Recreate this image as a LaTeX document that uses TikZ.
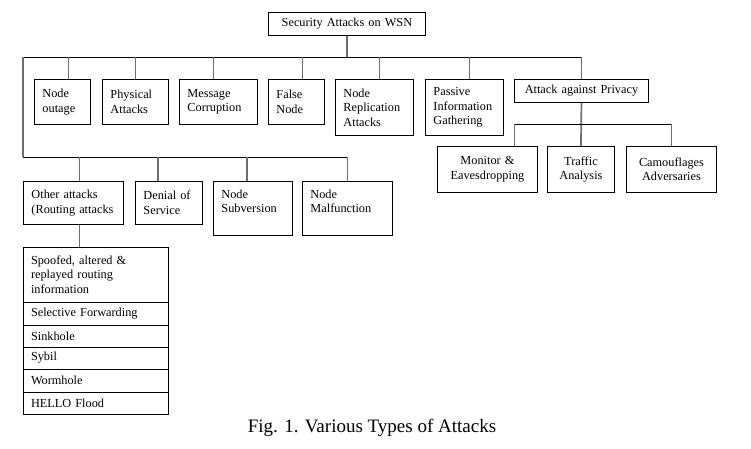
\documentclass[tikz,border=0pt]{standalone}
\usepackage{fontspec}
\setmainfont{Liberation Serif}
\usetikzlibrary{positioning}
\definecolor{WsnLine}{RGB}{0,0,0}
\definecolor{WsnDrop}{RGB}{110,110,110}

\begin{document}
\begin{tikzpicture}[x=1pt,y=-1pt]
        \tikzset{box/.style={draw=WsnLine,line width=0.9pt,anchor=north west,align=left,inner xsep=8pt,inner ysep=0pt,font=\fontsize{12.3}{14.5}\selectfont},
          cbox/.style={box,align=center},
          item/.style={box,outer sep=0pt,text width=129pt,minimum width=145pt},
          bus/.style={WsnLine,line width=0.9pt},
          drop/.style={WsnDrop,line width=1.7pt}}
        \useasboundingbox (0,0) rectangle (751,448);
        % root
        \node[cbox,text width=141pt,minimum height=23pt] (root) at (268,12) {Security Attacks on WSN};
        % first row
        \node[box,text width=40pt,minimum height=45pt] (outage) at (34,79) {Node\\outage};
        \node[box,text width=50pt,minimum height=45pt] (physical) at (102,79) {Physical\\Attacks};
        \node[box,text width=62pt,minimum height=45pt] (message) at (179,79) {Message\\Corruption};
        \node[box,text width=40pt,minimum height=45pt] (false) at (268,79) {False\\Node};
        \node[box,text width=62pt,minimum height=56pt] (replic) at (335,79) {Node\\Replication\\Attacks};
        \node[box,text width=62pt,minimum height=56pt] (passive) at (425,79) {Passive\\Information\\Gathering};
        \node[cbox,text width=118pt,minimum height=23pt] (privacy) at (514,79) {Attack against Privacy};
        % privacy sub-row
        \node[cbox,text width=84pt,minimum height=46pt] (monitor) at (437,146) {Monitor \&\\Eavesdropping};
        \node[cbox,text width=51pt,minimum height=46pt] (traffic) at (547,146) {Traffic\\Analysis};
        \node[cbox,text width=74pt,minimum height=46pt] (camo) at (626,146) {Camouflages\\Adversaries};
        % second row
        \node[box,text width=84pt,minimum height=43pt] (other) at (23,181) {Other attacks\\(Routing attacks};
        \node[box,text width=51pt,minimum height=43pt] (dos) at (135,181) {Denial of\\Service};
        \node[box,text width=63pt,text depth=29pt,minimum height=54pt] (subversion) at (213,181) {Node\\Subversion};
        \node[box,text width=74pt,text depth=29pt,minimum height=54pt] (malfunction) at (302,181) {Node\\Malfunction};
        % routing attacks list
        \node[item,minimum height=55pt] (r1) at (23,247) {Spoofed, altered \&\\replayed routing\\information};
        \node[item,minimum height=23pt,below=0pt of r1] (r2) {Selective Forwarding};
        \node[item,minimum height=22pt,below=0pt of r2] (r3) {Sinkhole};
        \node[item,minimum height=22pt,below=0pt of r3] (r4) {Sybil};
        \node[item,minimum height=23pt,below=0pt of r4] (r5) {Wormhole};
        \node[item,minimum height=22pt,below=0pt of r5] (r6) {HELLO Flood};
        % buses
        \coordinate (busL) at (23,57);
        \coordinate (busB) at (23,157);
        \coordinate (pbus) at (581,124);
        \draw[bus] (busL) -- (busL -| privacy.north);
        \draw[drop] (busL) -- (busB);
        \draw[bus] (busB) -- (busB -| malfunction.north);
        \draw[drop] (root.south) -- (root.south |- busL);
        \foreach \n/\s in {outage/6,physical/0,message/-5,false/6,replic/5,passive/5,privacy/0}
          \draw[drop] ([xshift=\s]\n.north) -- ([xshift=\s]\n.north |- busL);
        \foreach \n/\s in {other/6,dos/-11,subversion/-6,malfunction/0}
          \draw[drop] ([xshift=\s]\n.north) -- ([xshift=\s]\n.north |- busB);
        \draw[drop] ([xshift=6]other.south) -- ([xshift=6]other.south |- r1.north);
        \draw[drop] (privacy.south) -- (traffic.north);
        \draw[bus] ([xshift=27]monitor.north |- pbus) -- (camo.north |- pbus);
        \foreach \n/\s in {monitor/27,camo/0}
          \draw[drop] ([xshift=\s]\n.north) -- ([xshift=\s]\n.north |- pbus);
        % caption
        \node[font=\fontsize{19}{22}\selectfont] (caption) at (372,428) {Fig. 1. Various Types of Attacks};
      \end{tikzpicture}
\end{document}
